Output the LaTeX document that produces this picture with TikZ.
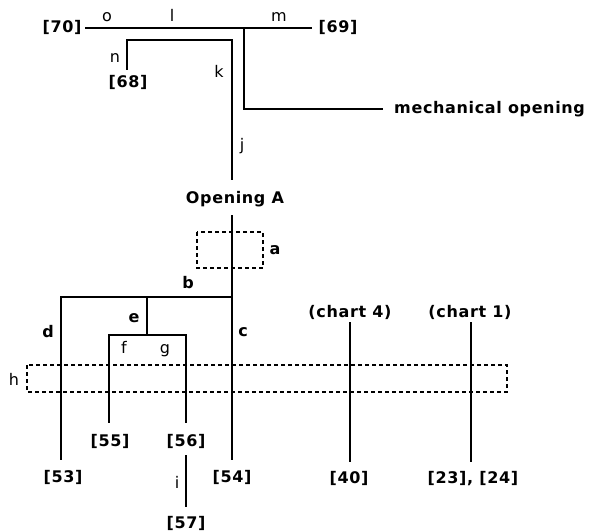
\documentclass[tikz,border=0pt]{standalone}
\usepackage{fontspec}
\setmainfont{DejaVu Sans}
\newfontfamily\reffont[LetterSpace=4]{DejaVu Sans Bold}
\begin{document}
\begin{tikzpicture}[x=1pt,y=-1pt,
  wire/.style={line width=1.8pt},
  dbox/.style={line width=1.5pt, dash pattern=on 4pt off 3pt},
  ref/.style={font=\reffont\fontsize{16}{16}\selectfont, inner sep=1pt, text height=10pt, text depth=3pt, anchor=base},
  ltr/.style={font=\fontsize{16}{16}\selectfont, inner sep=0pt, anchor=base},
  bltr/.style={ltr, font=\bfseries\fontsize{16}{16}\selectfont}]
\useasboundingbox (0,0) rectangle (589,532);

% reference labels
\node[ref] (n70) at (62,33) {[70]};
\node[ref] (n69) at (338,33) {[69]};
\node[ref] (n68) at (128,88) {[68]};
\node[ref, anchor=base west] (mech) at (393,114) {mechanical opening};
\node[ref] (opA) at (235,204) {Opening A};
\node[ref] (c4) at (350,317) {(chart 4)};
\node[ref] (c1) at (470,317) {(chart 1)};
\node[ref] (n53) at (63,482) {[53]};
\node[ref] (n54) at (232,482) {[54]};
\node[ref] (n55) at (110,446) {[55]};
\node[ref] (n56) at (186,446) {[56]};
\node[ref] (n57) at (186,528) {[57]};
\node[ref] (n40) at (349,483) {[40]};
\node[ref] (n2324) at (473,483) {[23], [24]};

% letter labels
\node[ltr] (lo) at (107,22) {o};
\node[ltr] (ll) at (172,22) {l};
\node[ltr] (lm) at (279,22) {m};
\node[ltr] (ln) at (115,63) {n};
\node[ltr] (lk) at (219,78) {k};
\node[ltr] (lj) at (242,150) {j};
\node[bltr] (la) at (275,254) {a};
\node[bltr] (lb) at (188,288) {b};
\node[bltr] (lc) at (243,336) {c};
\node[bltr] (ld) at (48,337) {d};
\node[bltr] (le) at (134,322) {e};
\node[ltr] (lf) at (124,353) {f};
\node[ltr] (lg) at (165,353) {g};
\node[ltr] (lh) at (14,385) {h};
\node[ltr] (li) at (177,488) {i};

% junctions
\coordinate (jT) at (244,28);
\coordinate (jM) at (244,109);
\coordinate (nT) at (127,40);
\coordinate (kT) at (232,40);
\coordinate (jB) at (232,297);
\coordinate (dT) at (61,297);
\coordinate (eT) at (147,297);
\coordinate (eB) at (147,335);
\coordinate (fT) at (109,335);
\coordinate (gT) at (186,335);
\coordinate (c1x) at ([xshift=1pt,yshift=-1pt]c1.south);

% connectors
\draw[wire] (85,28) -- (jT) -- (312,28);
\draw[wire] (jT) -- (jM) -- ([xshift=-10pt]mech.west |- jM);
\draw[wire] ([yshift=7pt]n68.north -| nT) -- (nT) -- (kT) -- ([yshift=13pt]opA.north -| kT);
\draw[wire] ([yshift=-7pt]opA.south -| kT) -- ([yshift=11pt]n54.north -| kT);
\draw[wire] (jB) -- (dT) -- ([yshift=11pt]n53.north -| dT);
\draw[wire] (eT) -- (eB);
\draw[wire] ([yshift=12pt]n55.north -| fT) -- (fT) -- (gT) -- ([yshift=12pt]n56.north -| gT);
\draw[wire] ([yshift=-5pt]n56.south) -- ([yshift=10pt]n57.north);
\draw[wire] ([yshift=-1pt]c4.south) -- ([yshift=10pt]n40.north -| c4.south);
\draw[wire] (c1x) -- ([yshift=10pt]n2324.north -| c1x);

% dashed boxes
\draw[dbox] (197,232) rectangle (263,268);
\draw[dbox] (27,365) rectangle (507,392);
\end{tikzpicture}
\end{document}
